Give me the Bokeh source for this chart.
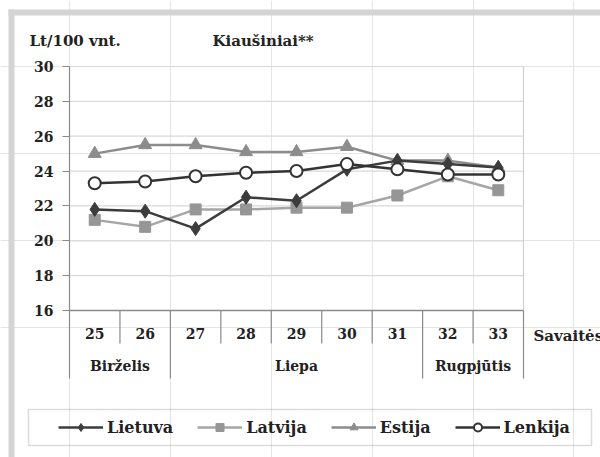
import numpy as np
from bokeh.plotting import figure
from bokeh.models import (Range1d, FixedTicker, Legend, LegendItem, Label,
                          BoxAnnotation, LinearAxis)
from bokeh.core.properties import value
from bokeh.embed import file_html
from bokeh.resources import INLINE

# ---------------- data ----------------
weeks = ["25", "26", "27", "28", "29", "30", "31", "32", "33"]
months = ["Birželis", "Liepa", "Rugpjūtis"]
month_spans = [2, 5, 2]
lietuva = [21.8, 21.7, 20.7, 22.5, 22.3, 24.1, 24.6, 24.4, 24.2]
latvija = [21.2, 20.8, 21.8, 21.8, 21.9, 21.9, 22.6, 23.7, 22.9]
estija = [25.0, 25.5, 25.5, 25.1, 25.1, 25.4, 24.6, 24.6, 24.2]
lenkija = [23.3, 23.4, 23.7, 23.9, 24.0, 24.4, 24.1, 23.8, 23.8]
y_ticks = [16, 18, 20, 22, 24, 26, 28, 30]
series_names = ["Lietuva", "Latvija", "Estija", "Lenkija"]

# ---------------- layout ----------------
FONT = "DejaVu Serif"
W, H = 600, 457
PL, PR, PT, PB = 69, 523, 66, 310      # plot area in pixels (16..30, 0..9)
NX = len(weeks)
ux = (PR - PL) / NX
uy = (PB - PT) / (y_ticks[-1] - y_ticks[0])
xs, xe = -PL / ux, NX + (W - PR) / ux
ye, ys = y_ticks[-1] + PT / uy, y_ticks[0] - (H - PB) / uy


def dx(px):
    return xs + px / ux


def dy(py):
    return ye - py / uy


p = figure(width=W, height=H, output_backend="svg", toolbar_location=None,
           x_range=Range1d(xs, xe), y_range=Range1d(ys, ye),
           x_axis_location=None, y_axis_location=None, min_border=0)
p.outline_line_color = None
p.background_fill_color = "white"
p.border_fill_color = "white"

YMIN = y_ticks[0]
TABLE_BOTTOM = dy(378)
ROW1_BOTTOM = dy(343)

# horizontal gridlines (within plot area only)
gy = y_ticks[1:]
p.segment(x0=[0] * len(gy), y0=gy, x1=[NX] * len(gy), y1=gy,
          line_color="#d9d9d9", line_width=1.2)

ax = LinearAxis(fixed_location=0, ticker=FixedTicker(ticks=y_ticks),
                bounds=(TABLE_BOTTOM, y_ticks[-1]))
ax.axis_line_color = "#8a8a8a"
ax.axis_line_width = 1.2
ax.major_tick_line_color = "#8a8a8a"
ax.major_tick_out = 7
ax.major_tick_in = 0
ax.minor_tick_line_color = None
ax.major_label_text_font = FONT
ax.major_label_text_font_style = "bold"
ax.major_label_text_font_size = "14px"
ax.major_label_text_color = "#222222"
ax.major_label_standoff = 9
p.add_layout(ax, "left")

xc = np.arange(NX) + 0.5

# plot-area border on the right and x axis line
p.segment(x0=[NX], y0=[YMIN], x1=[NX], y1=[y_ticks[-1]], line_color="#d0d0d0", line_width=1.2)
p.segment(x0=[0], y0=[YMIN], x1=[NX], y1=[YMIN], line_color="#8a8a8a", line_width=1.3)

# table separators below the axis
month_bounds = set(np.cumsum(month_spans).tolist())
sx, sy0, sy1 = [], [], []
for b in range(1, NX + 1):
    sx.append(b)
    sy0.append(YMIN)
    sy1.append(TABLE_BOTTOM if b in month_bounds else ROW1_BOTTOM)
p.segment(x0=sx, y0=sy0, x1=sx, y1=sy1, line_color="#8a8a8a", line_width=1.2)

# week and month labels
p.text(x=xc, y=[dy(333)] * NX, text=weeks, text_align="center",
       text_baseline="middle", text_font=value(FONT), text_font_style="bold",
       text_font_size="14px", text_color="#222222")
starts = np.concatenate([[0], np.cumsum(month_spans)[:-1]])
mcent = starts + np.array(month_spans) / 2.0
p.text(x=mcent, y=[dy(365)] * len(months), text=months, text_align="center",
       text_baseline="middle", text_font=value(FONT), text_font_style="bold",
       text_font_size="14px", text_color="#222222")

# series
r_lv_l = p.line(xc, latvija, line_color="#a6a6a6", line_width=2.5)
r_lv_m = p.scatter(xc, latvija, marker="square", size=11, fill_color="#969696",
                   line_color="#969696")
r_ee_l = p.line(xc, estija, line_color="#8c8c8c", line_width=2.5)
r_ee_m = p.scatter(xc, estija, marker="triangle", size=13, fill_color="#8c8c8c",
                   line_color="#8c8c8c")
r_lt_l = p.line(xc, lietuva, line_color="#3c3c3c", line_width=2.5)
r_lt_m = p.scatter(xc, lietuva, marker="diamond", size=14, fill_color="#3c3c3c",
                   line_color="#3c3c3c")
r_pl_l = p.line(xc, lenkija, line_color="#333333", line_width=2.5)
r_pl_m = p.scatter(xc, lenkija, marker="circle", size=12, fill_color="white",
                   line_color="#333333", line_width=2)

# legend frame
p.add_layout(BoxAnnotation(left=dx(28), right=dx(591), top=dy(409), bottom=dy(445),
                           fill_alpha=0, line_color="#8a8a8a", line_width=1.5))

legend = Legend(items=[
    LegendItem(label=series_names[0], renderers=[r_lt_l, r_lt_m]),
    LegendItem(label=series_names[1], renderers=[r_lv_l, r_lv_m]),
    LegendItem(label=series_names[2], renderers=[r_ee_l, r_ee_m]),
    LegendItem(label=series_names[3], renderers=[r_pl_l, r_pl_m]),
], orientation="horizontal", location=(58, H - 437),
    border_line_color=None, background_fill_alpha=0, padding=8, spacing=24,
    glyph_width=45, glyph_height=20, label_standoff=4,
    label_text_font=FONT, label_text_font_style="bold",
    label_text_font_size="16px", label_text_color="#222222")
p.add_layout(legend)

# gray page border
p.add_layout(BoxAnnotation(left=dx(8), right=dx(14), top=dy(9), bottom=dy(H + 5),
                           fill_color="#d4d4d4", fill_alpha=1, line_color=None))
p.add_layout(BoxAnnotation(left=dx(8), right=dx(W + 5), top=dy(9), bottom=dy(15),
                           fill_color="#d4d4d4", fill_alpha=1, line_color=None))

# titles
for txt, px, py in [("Lt/100 vnt.", 29, 40), ("Kiaušiniai**", 212, 40), ("Savaitės", 533, 335)]:
    p.add_layout(Label(x=dx(px), y=dy(py), text=txt, text_align="left",
                       text_baseline="middle", text_font=FONT, text_font_style="bold",
                       text_font_size="15px", text_color="#222222"))

open("out.html", "w").write(file_html(p, INLINE))
